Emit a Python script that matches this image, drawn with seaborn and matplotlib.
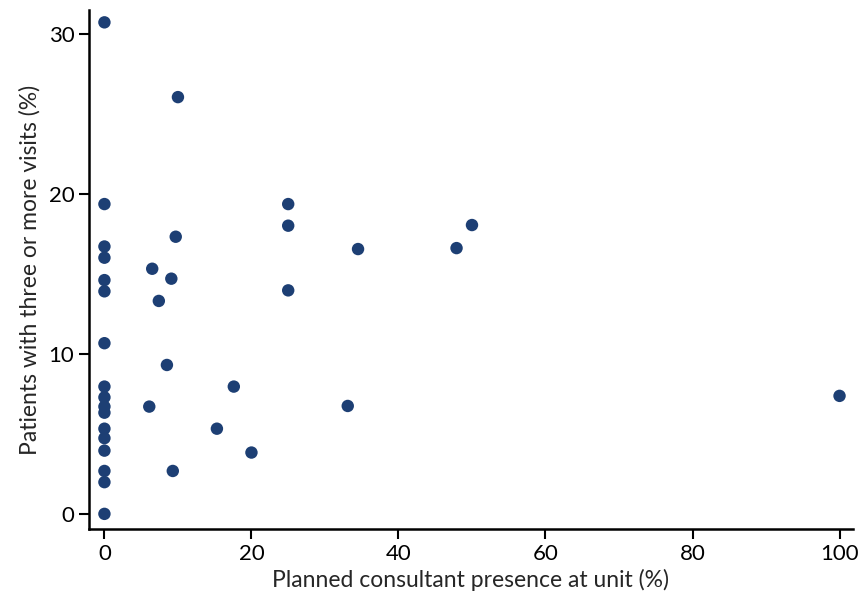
import matplotlib
matplotlib.use("Agg")
import matplotlib.pyplot as plt
import seaborn as sns
import pandas as pd

# consultant presence (%) and patients with three or more visits (%)
presence = [0, 0, 0, 0, 0, 0, 0, 0, 0, 0, 0, 0, 0, 0, 0, 0, 0,
            10.0, 9.7, 6.5, 9.1, 7.4, 8.5, 6.1, 17.6, 15.3, 20.0, 9.3,
            25.0, 25.0, 25.0, 34.5, 47.9, 50.0, 33.1, 100.0]
visits = [30.7, 19.35, 16.7, 16.0, 14.6, 13.9, 10.66, 7.95, 7.28, 6.7, 6.32,
          5.32, 4.73, 3.95, 2.68, 1.98, 0.0,
          26.03, 17.31, 15.31, 14.69, 13.3, 9.3, 6.7, 7.95, 5.32, 3.83, 2.68,
          19.35, 18.0, 13.96, 16.54, 16.6, 18.04, 6.74, 7.37]

df = pd.DataFrame({"presence": presence, "visits": visits})

sns.set_style("ticks")
plt.rcParams["font.family"] = ["Lato", "DejaVu Sans"]

fig = plt.figure(figsize=(8.64, 5.99), dpi=100)
ax = fig.add_axes([0.103, 0.117, 0.884, 0.866])

sns.scatterplot(data=df, x="presence", y="visits", ax=ax,
                color="#1d3f74", s=80, edgecolor="none")

ax.set_xlim(-2.1, 101.8)
ax.set_ylim(-0.94, 31.46)
ax.set_xticks([0, 20, 40, 60, 80, 100])
ax.set_yticks([0, 10, 20, 30])
ax.set_xlabel("Planned consultant presence at unit (%)", fontsize=16.5, labelpad=4)
ax.set_ylabel("Patients with three or more visits (%)", fontsize=16.5, labelpad=6)
ax.tick_params(labelsize=16, length=7, width=1.5, color="black", labelcolor="black")
for side in ["top", "right"]:
    ax.spines[side].set_visible(False)
for side in ["left", "bottom"]:
    ax.spines[side].set_linewidth(1.8)
    ax.spines[side].set_color("black")

fig.savefig("out.png", dpi=100)
